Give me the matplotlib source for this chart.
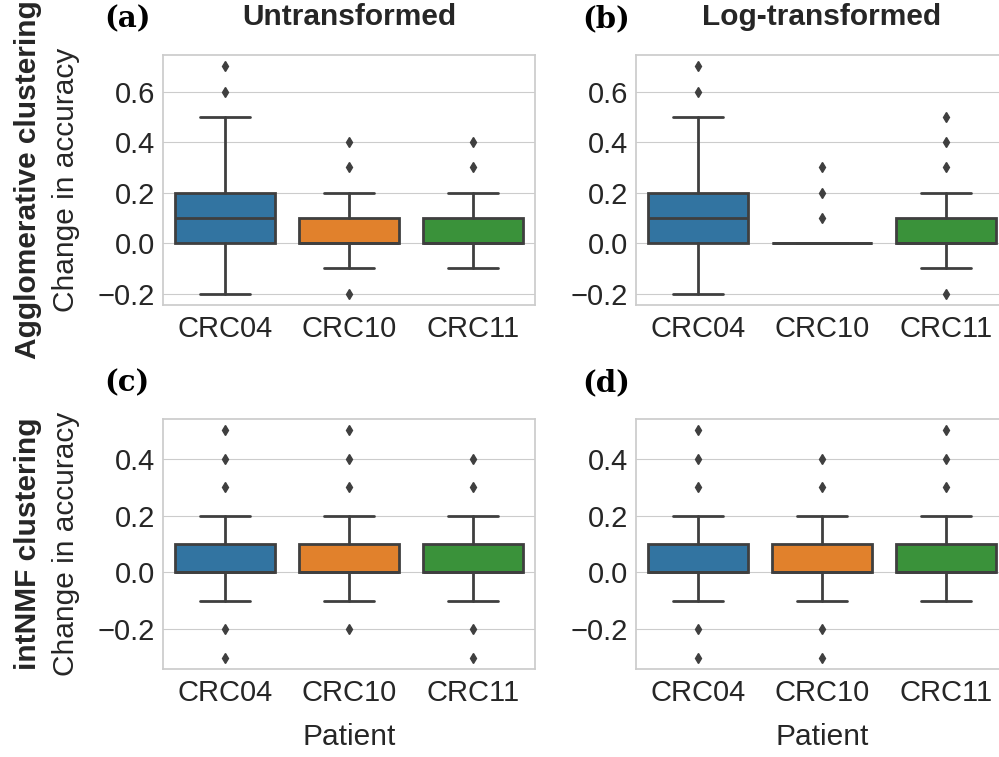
import matplotlib
matplotlib.use("Agg")
import matplotlib.pyplot as plt
from matplotlib.ticker import MultipleLocator
import seaborn as sns

sns.set_style("whitegrid")
plt.rcParams['font.family'] = ['Liberation Sans', 'DejaVu Sans']

patients = ["CRC04", "CRC10", "CRC11"]
colors = ["#3274a1", "#e1812c", "#3a923a"]

# (a) agglomerative, untransformed
a_q1 = [0.0, 0.0, 0.0]
a_med = [0.1, 0.0, 0.0]
a_q3 = [0.2, 0.1, 0.1]
a_lo = [-0.2, -0.1, -0.1]
a_hi = [0.5, 0.2, 0.2]
a_fliers = [[0.6, 0.7], [-0.2, 0.3, 0.4], [0.3, 0.4]]

# (b) agglomerative, log-transformed
b_q1 = [0.0, 0.0, 0.0]
b_med = [0.1, 0.0, 0.0]
b_q3 = [0.2, 0.0, 0.1]
b_lo = [-0.2, 0.0, -0.1]
b_hi = [0.5, 0.0, 0.2]
b_fliers = [[0.6, 0.7], [0.1, 0.2, 0.3], [-0.2, 0.3, 0.4, 0.5]]

# (c) intNMF, untransformed
c_q1 = [0.0, 0.0, 0.0]
c_med = [0.0, 0.0, 0.0]
c_q3 = [0.1, 0.1, 0.1]
c_lo = [-0.1, -0.1, -0.1]
c_hi = [0.2, 0.2, 0.2]
c_fliers = [[-0.3, -0.2, 0.3, 0.4, 0.5], [-0.2, 0.3, 0.4, 0.5], [-0.3, -0.2, 0.3, 0.4]]

# (d) intNMF, log-transformed
d_q1 = [0.0, 0.0, 0.0]
d_med = [0.0, 0.0, 0.0]
d_q3 = [0.1, 0.1, 0.1]
d_lo = [-0.1, -0.1, -0.1]
d_hi = [0.2, 0.2, 0.2]
d_fliers = [[-0.3, -0.2, 0.3, 0.4, 0.5], [-0.3, -0.2, 0.3, 0.4], [0.3, 0.4, 0.5]]

panels = [
    ("(a)", a_q1, a_med, a_q3, a_lo, a_hi, a_fliers),
    ("(b)", b_q1, b_med, b_q3, b_lo, b_hi, b_fliers),
    ("(c)", c_q1, c_med, c_q3, c_lo, c_hi, c_fliers),
    ("(d)", d_q1, d_med, d_q3, d_lo, d_hi, d_fliers),
]

W, H = 999, 757
fig = plt.figure(figsize=(W / 100, H / 100), dpi=100)

lefts = [163, 636, 163, 636]
tops = [55, 55, 419, 419]
tag_x = [104, 582, 104, 582]
aw, ah = 372, 250
line_c = "#3f3f3f"
fs_tick = 21
fs = 21.5

for i, (tag, q1, med, q3, lo, hi, fl) in enumerate(panels):
    ax = fig.add_axes([lefts[i] / W, 1 - (tops[i] + ah) / H, aw / W, ah / H])
    stats = []
    for j in range(3):
        stats.append(dict(q1=q1[j], med=med[j], q3=q3[j], whislo=lo[j],
                          whishi=hi[j], fliers=fl[j], label=patients[j]))
    bp = ax.bxp(stats, positions=range(3), widths=0.8, capwidths=0.4,
                patch_artist=True, manage_ticks=False,
                boxprops=dict(edgecolor=line_c, linewidth=2),
                whiskerprops=dict(color=line_c, linewidth=2),
                capprops=dict(color=line_c, linewidth=2),
                medianprops=dict(color=line_c, linewidth=2),
                flierprops=dict(marker='d', markersize=5.5, markerfacecolor=line_c,
                                markeredgecolor=line_c, linestyle='none'))
    for patch, c in zip(bp['boxes'], colors):
        patch.set_facecolor(c)
    ax.set_xlim(-0.5, 2.5)
    ax.set_xticks(range(3))
    ax.set_xticklabels(patients)
    ax.yaxis.set_major_locator(MultipleLocator(0.2))
    ax.grid(False, axis='x')
    ax.set_axisbelow(True)
    ax.tick_params(axis='both', labelsize=fs_tick, colors='#262626')
    ax.tick_params(axis='y', pad=2)
    if i >= 2:
        ax.set_xlabel("Patient", fontsize=fs, color='#262626', labelpad=12)
    for s in ax.spines.values():
        s.set_color('#cccccc')
        s.set_linewidth(1.25)
    fig.text(tag_x[i] / W, 1 - (tops[i] - 28) / H, tag, fontsize=21,
             fontweight='bold', family='DejaVu Serif', va='baseline', ha='left',
             color='black')

fig.text((lefts[0] + aw / 2) / W, 1 - 25 / H, "Untransformed", fontsize=fs,
         fontweight='bold', ha='center', va='baseline', color='#262626')
fig.text((lefts[1] + aw / 2) / W, 1 - 25 / H, "Log-transformed", fontsize=fs,
         fontweight='bold', ha='center', va='baseline', color='#262626')

for ytop, name in [(55, "Agglomerative clustering"), (419, "intNMF clustering")]:
    yc = 1 - (ytop + ah / 2) / H
    fig.text(28 / W, yc, name, fontsize=fs, fontweight='bold', rotation=90,
             ha='center', va='center', color='#262626')
    fig.text(66 / W, yc, "Change in accuracy", fontsize=fs, rotation=90,
             ha='center', va='center', color='#262626')

fig.savefig("out.png", dpi=100)
